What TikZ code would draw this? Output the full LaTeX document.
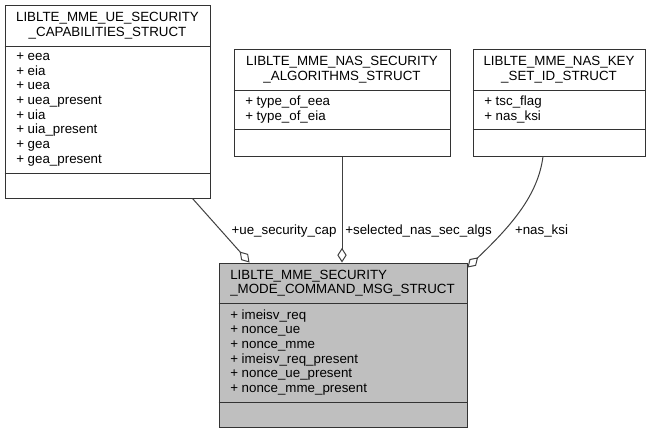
\documentclass[tikz,border=0pt]{standalone}
\usepackage{fontspec}
\setmainfont{Liberation Sans}
\usetikzlibrary{arrows.meta, positioning, fit}

\definecolor{mainfill}{HTML}{BFBFBF}

\begin{document}
\begin{tikzpicture}[
    x=0.75pt, y=-0.75pt,
    every node/.style={font=\fontsize{10}{11}\selectfont, inner sep=0pt},
    structbox/.style={draw=black!80, line width=0.75pt, fill=#1, inner sep=0pt},
    structbox/.default=white,
    boxtitle/.style={align=center},
    members/.style={align=left, anchor=west},
    divider/.style={draw=black!80, line width=0.75pt},
    member/.style={-{Diamond[open, length=11pt, width=7pt]}, draw=black!75, line width=0.75pt},
    memberlabel/.style={text=black}
]
\useasboundingbox (0,0) rectangle (651,433);

% --- Structs ---
\node[structbox, fit={(5,5) (210,198)}] (ue) {};
\node[structbox, fit={(234,49) (450,156)}] (nas) {};
\node[structbox, fit={(473,49) (645,156)}] (key) {};
\node[structbox=mainfill, fit={(219,263) (467,427)}] (main) {};

% --- Dividers ---
\draw[divider] (ue.west |- 0,46) -- (ue.east |- 0,46);
\draw[divider] (ue.west |- 0,173) -- (ue.east |- 0,173);
\draw[divider] (nas.west |- 0,90) -- (nas.east |- 0,90);
\draw[divider] (nas.west |- 0,129) -- (nas.east |- 0,129);
\draw[divider] (key.west |- 0,90) -- (key.east |- 0,90);
\draw[divider] (key.west |- 0,129) -- (key.east |- 0,129);
\draw[divider] (main.west |- 0,303) -- (main.east |- 0,303);
\draw[divider] (main.west |- 0,402) -- (main.east |- 0,402);

% --- Titles ---
\node[boxtitle] (ueT) at (107.5,25.5) {LIBLTE\_MME\_UE\_SECURITY\\\_CAPABILITIES\_STRUCT};
\node[boxtitle] (nasT) at (342,69.5) {LIBLTE\_MME\_NAS\_SECURITY\\\_ALGORITHMS\_STRUCT};
\node[boxtitle] (keyT) at (559,69.5) {LIBLTE\_MME\_NAS\_KEY\\\_SET\_ID\_STRUCT};
\node[members] (mainT) at (230,283) {LIBLTE\_MME\_SECURITY\\\_MODE\_COMMAND\_MSG\_STRUCT};

% --- Members ---
\node[members] (ueM) at (16,109.5) {+ eea\\+ eia\\+ uea\\+ uea\_present\\+ uia\\+ uia\_present\\+ gea\\+ gea\_present};
\node[members] (nasM) at (245,109.5) {+ type\_of\_eea\\+ type\_of\_eia};
\node[members] (keyM) at (484,109.5) {+ tsc\_flag\\+ nas\_ksi};
\node[members] (mainM) at (230,352.5) {+ imeisv\_req\\+ nonce\_ue\\+ nonce\_mme\\+ imeisv\_req\_present\\+ nonce\_ue\_present\\+ nonce\_mme\_present};

% --- Associations ---
\draw[member] ([xshift=-13.5pt]ue.south east) -- ([xshift=23.25pt]main.north west);
\draw[member] (nas.south) -- (nas.south |- main.north);
\draw[member] ([xshift=-12pt]key.south) .. controls (538,195) and (512,225) .. ([yshift=-3.75pt]main.north east);

% --- Labels ---
\node[memberlabel] (ueL) at (284,231) {+ue\_security\_cap};
\node[memberlabel] (nasL) at (418.5,231) {+selected\_nas\_sec\_algs};
\node[memberlabel] (keyL) at (541.5,231) {+nas\_ksi};

\end{tikzpicture}
\end{document}
